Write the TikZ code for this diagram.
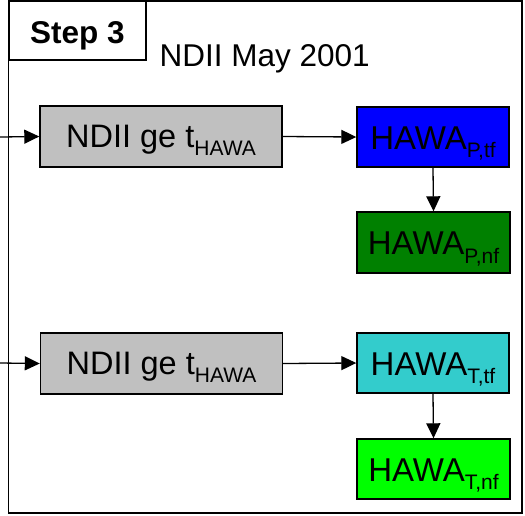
\documentclass[tikz,border=0pt]{standalone}
\usepackage{fontspec}
\setmainfont{Liberation Sans}
\usetikzlibrary{arrows.meta}
\definecolor{boxgray}{HTML}{C0C0C0}
\definecolor{boxblue}{HTML}{0000FF}
\definecolor{boxdkgreen}{HTML}{008000}
\definecolor{boxcyan}{HTML}{33CCCC}
\definecolor{boxlime}{HTML}{00FF00}
\newcommand{\mysub}[1]{\raisebox{-8.5pt}{\fontsize{21}{21}\selectfont #1}}
\begin{document}
\begin{tikzpicture}[x=1pt,y=-1pt,
  main/.style={font=\fontsize{31.5}{31.5}\selectfont},
  graybox/.style={draw=black,line width=1.4pt,fill=boxgray,minimum width=242pt,minimum height=61pt,inner sep=0pt,text height=22pt,text depth=0.4pt,font=\fontsize{32.5}{32.5}\selectfont},
  hawabox/.style={draw=black,line width=1.4pt,minimum width=152pt,minimum height=60pt,inner sep=0pt,text height=24pt,text depth=0pt,font=\fontsize{33}{33}\selectfont},
  conn/.style={line width=1.3pt,-{Triangle[length=15pt,width=14pt]}}]
\useasboundingbox (0,0) rectangle (525,515);
% outer frame
\draw[line width=1.4pt] (8.5,1) rectangle (522,513);
\node[draw=black,line width=1.4pt,fill=white,minimum width=137pt,minimum height=59pt,inner sep=0pt,text height=25.6pt,text depth=0pt,font=\fontsize{31.5}{31.5}\selectfont\bfseries] (step) at (77.5,30.5) {Step 3};
\node[anchor=base west,inner sep=0pt,main] (title) at (159.5,66) {NDII May 2001};
% top row
\coordinate (in1) at (0,137);
\node[graybox] (g1) at (161,136.5) {NDII ge t\mysub{HAWA}};
\node[hawabox,fill=boxblue] (ptf) at (433,137) {HAWA\mysub{P,tf}};
\node[hawabox,fill=boxdkgreen,minimum width=153pt,minimum height=61pt] (pnf) at (433.5,242.5) {HAWA\mysub{P,nf}};
\draw[conn] (in1) -- (g1.west);
\draw[conn] (g1.east) -- (ptf.west);
\draw[conn] (ptf.south) -- (pnf.north);
% bottom row
\coordinate (in2) at (0,363);
\node[graybox] (g2) at (161.5,363.5) {NDII ge t\mysub{HAWA}};
\node[hawabox,fill=boxcyan] (ttf) at (433,363) {HAWA\mysub{T,tf}};
\node[hawabox,fill=boxlime,minimum width=153pt] (tnf) at (433.5,469) {HAWA\mysub{T,nf}};
\draw[conn] (in2) -- (g2.west);
\draw[conn] (g2.east) -- (ttf.west);
\draw[conn] (ttf.south) -- (tnf.north);
\end{tikzpicture}
\end{document}
